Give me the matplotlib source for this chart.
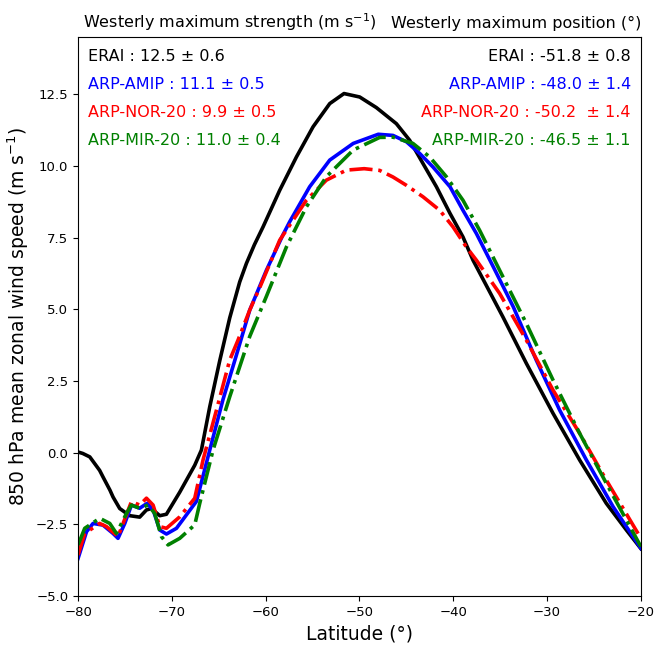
import matplotlib
matplotlib.use("Agg")
import matplotlib.pyplot as plt

# ERAI
lat_erai = [-80, -79.5, -78.75, -77.7, -77.34, -76.6, -76.27, -75.56, -74.49, -73.43, -72.71,
            -72.18, -71.29, -70.58, -69.16, -67.56, -66.85, -65.96, -64.9, -63.83, -62.77,
            -62.05, -61.2, -60.28, -58.5, -56.72, -54.95, -53.17, -51.65, -49.98, -48.2, -46.07,
            -44.65, -43.23, -41.8, -40.35, -38.97, -37.9, -34.71, -32.21, -29.37, -26.53,
            -23.69, -21.55, -20]
u_erai = [0.02, -0.03, -0.15, -0.62, -0.85, -1.31, -1.55, -1.95, -2.2, -2.25, -2.0,
          -1.95, -2.2, -2.15, -1.38, -0.44, 0.09, 1.6, 3.2, 4.7, 5.95,
          6.6, 7.25, 7.87, 9.15, 10.31, 11.36, 12.17, 12.52, 12.4, 12.03, 11.47,
          10.89, 10.08, 9.27, 8.34, 7.52, 6.71, 4.73, 3.11, 1.37, -0.26,
          -1.77, -2.7, -3.35]

# ARP-AMIP
lat_amip = [-80, -79.1, -78.4, -77.34, -76.27, -75.74, -75.02, -74.31, -73.43, -72.64, -72.0,
            -71.29, -70.58, -69.51, -67.38, -65.96, -64.55, -63.12, -61.7, -59.92, -58.15,
            -57.44, -55.31, -53.17, -50.67, -48.0, -46.43, -45.0, -43.58, -42.17, -40.35,
            -38.97, -37.54, -35.74, -33.6, -31.15, -28.66, -25.81, -22.96, -20]
u_amip = [-3.69, -2.76, -2.47, -2.53, -2.82, -2.99, -2.47, -1.83, -1.94, -1.77, -2.0,
          -2.7, -2.84, -2.64, -1.7, 0.09, 1.85, 3.4, 4.97, 6.36, 7.6,
          8.05, 9.27, 10.2, 10.78, 11.1, 11.06, 10.84, 10.43, 9.96, 9.27,
          8.45, 7.64, 6.48, 5.08, 3.22, 1.48, -0.26, -1.89, -3.34]

# ARP-NOR-20
lat_nor = [-80, -79.29, -77.7, -76.97, -75.74, -74.31, -73.43, -72.71, -72.0, -71.29, -70.58,
           -69.16, -67.56, -66.68, -65.25, -63.83, -62.95, -61.7, -60.6, -58.5, -55.66,
           -53.53, -51.4, -49.5, -47.85, -46.43, -45.0, -43.23, -41.45, -40.03, -38.61,
           -37.54, -35.06, -32.21, -29.37, -26.53, -23.69, -20]
u_nor = [-3.57, -2.82, -2.47, -2.58, -2.93, -1.71, -1.83, -1.59, -1.83, -2.58, -2.64,
         -2.24, -1.59, -0.26, 1.48, 3.23, 3.92, 4.97, 5.78, 7.41, 8.8,
         9.5, 9.85, 9.9, 9.84, 9.61, 9.32, 8.92, 8.45, 7.87, 7.17,
         6.71, 5.55, 3.92, 2.18, 0.67, -0.96, -2.99]

# ARP-MIR-20
lat_mir = [-80, -79.29, -77.69, -76.62, -75.91, -74.84, -74.31, -73.43, -72.54, -71.83, -71.11,
           -70.41, -69.16, -67.56, -67.03, -65.61, -63.83, -61.7, -59.92, -57.79, -55.66,
           -53.53, -50.67, -47.85, -46.43, -44.3, -42.52, -40.74, -38.97, -37.19, -34.71,
           -32.21, -29.37, -26.53, -23.69, -20]
u_mir = [-3.22, -2.64, -2.29, -2.47, -2.82, -2.12, -1.83, -1.94, -1.83, -2.12, -2.93,
         -3.22, -2.99, -2.52, -1.77, 0.09, 1.95, 4.05, 5.45, 7.17, 8.57,
         9.62, 10.55, 10.99, 11.0, 10.78, 10.31, 9.62, 8.8, 7.75, 6.13,
         4.5, 2.53, 0.67, -1.07, -3.28]

models = ["ERAI", "ARP-AMIP", "ARP-NOR-20", "ARP-MIR-20"]
colors = ["black", "blue", "red", "green"]
styles = ["-", "-", "-.", "-."]
strength_txt = ["12.5 ± 0.6", "11.1 ± 0.5", "9.9 ± 0.5", "11.0 ± 0.4"]
position_txt = ["-51.8 ± 0.8", "-48.0 ± 1.4", "-50.2  ± 1.4", "-46.5 ± 1.1"]

lats = [lat_erai, lat_amip, lat_nor, lat_mir]
winds = [u_erai, u_amip, u_nor, u_mir]

fig = plt.figure(figsize=(6.56, 6.45), dpi=100)
ax = fig.add_axes([0.119, 0.076, 0.858, 0.867])

for lat, u, c, ls in zip(lats, winds, colors, styles):
    ax.plot(lat, u, color=c, linestyle=ls, linewidth=2.6)

ax.set_xlim(-80, -20)
ax.set_ylim(-5, 14.5)
ax.set_yticks([-5.0, -2.5, 0.0, 2.5, 5.0, 7.5, 10.0, 12.5])
ax.tick_params(labelsize=9.5)

ax.set_xlabel("Latitude (°)", fontsize=13.5)
ax.set_ylabel("850 hPa mean zonal wind speed (m s$^{-1}$)", fontsize=13.5)
ax.set_title("Westerly maximum strength (m s$^{-1}$)", loc="left", x=0.008, fontsize=11.5)
ax.set_title("Westerly maximum position (°)", loc="right", fontsize=11.5)

#Text summary of the maxima
for i in range(4):
    y = 0.965 - 0.05 * i
    ax.text(0.018, y, f"{models[i]} : {strength_txt[i]}", color=colors[i],
            transform=ax.transAxes, fontsize=11.5, va="center", ha="left")
    ax.text(0.982, y, f"{models[i]} : {position_txt[i]}", color=colors[i],
            transform=ax.transAxes, fontsize=11.5, va="center", ha="right")

fig.savefig("out.png", dpi=100)
